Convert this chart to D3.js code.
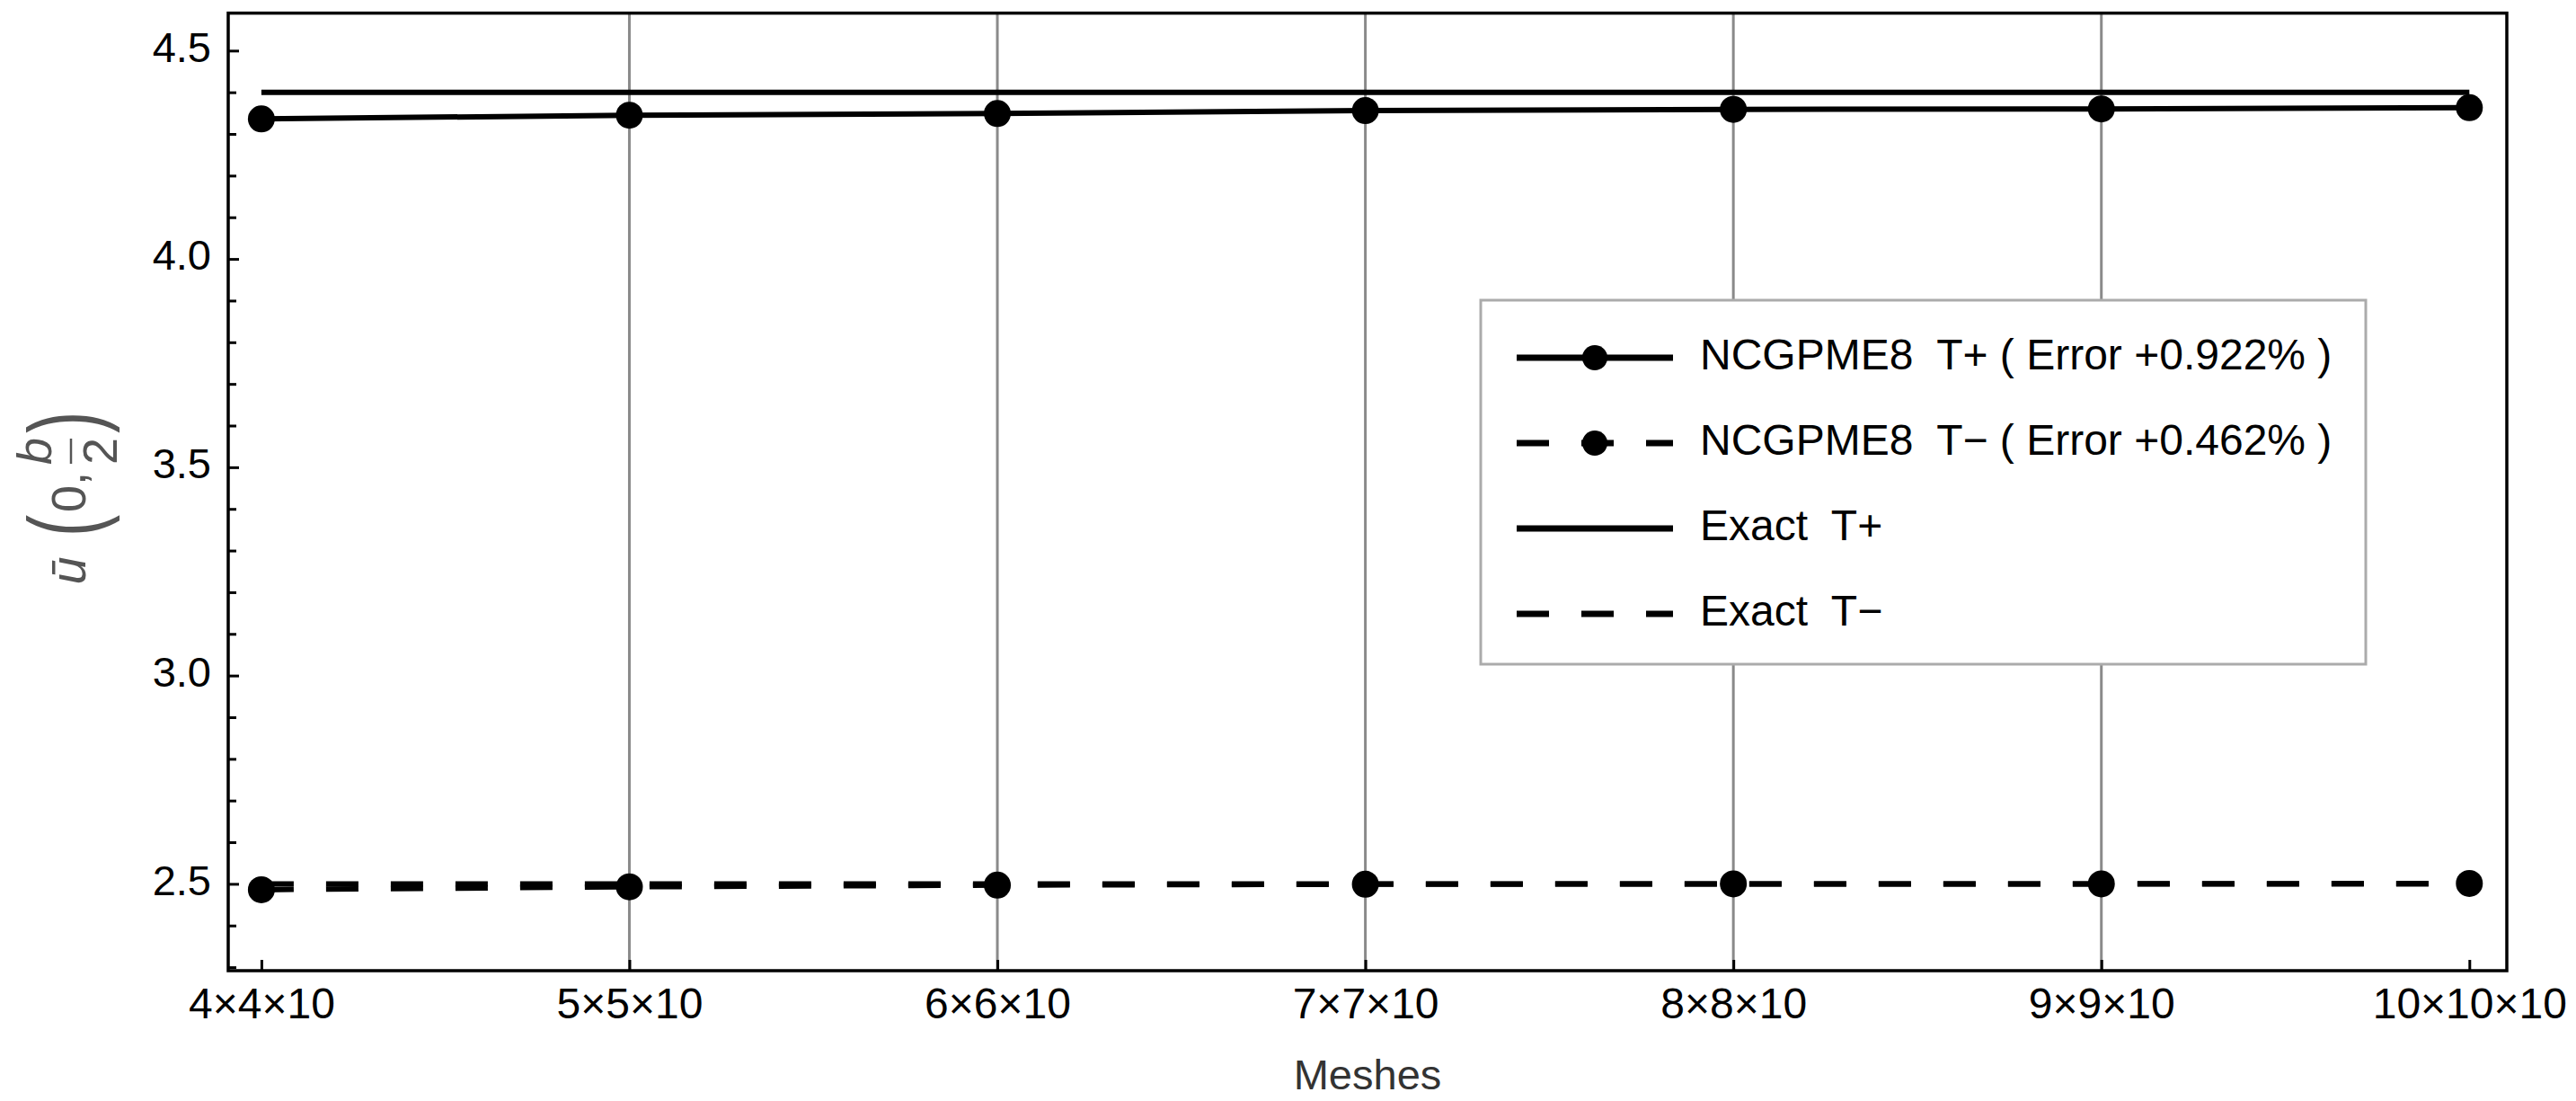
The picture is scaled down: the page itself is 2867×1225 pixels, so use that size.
<!DOCTYPE html>
<html>
<head>
<meta charset="utf-8">
<script src="https://cdn.jsdelivr.net/npm/d3@7"></script>
<style>
  html, body { margin: 0; padding: 0; background: #fff; }
  svg { display: block; }
  text { font-family: "Liberation Sans", Arial, sans-serif; }
</style>
</head>
<body>
<svg id="chart" width="2867" height="1225"></svg>
<script>
// ---------------- data ----------------
const categories = ["4×4×10", "5×5×10", "6×6×10", "7×7×10", "8×8×10", "9×9×10", "10×10×10"];
const ncgTPlus  = [4.336, 4.345, 4.349, 4.356, 4.359, 4.360, 4.363];
const ncgTMinus = [2.486, 2.493, 2.497, 2.499, 2.500, 2.500, 2.501];
const exactTPlus  = [4.4, 4.4, 4.4, 4.4, 4.4, 4.4, 4.4];
const exactTMinus = [2.5, 2.5, 2.5, 2.5, 2.5, 2.5, 2.5];
const yMajorTicks = [2.5, 3.0, 3.5, 4.0, 4.5];
const yTickLabels = ["2.5", "3.0", "3.5", "4.0", "4.5"];
const legendLabels = [
  "NCGPME8  T+ ( Error +0.922% )",
  "NCGPME8  T− ( Error +0.462% )",
  "Exact  T+",
  "Exact  T−"
];
const xTitle = "Meshes";

// ---------------- layout ----------------
const frame = { left: 254, right: 2790, top: 14.6, bottom: 1080 };
const svg = d3.select("#chart");

const x = d3.scalePoint().domain(categories).range([290.9, 2748.3]);
const y = d3.scaleLinear().domain([2.2916, 4.590]).range([frame.bottom, frame.top]);

const rows = categories.map((c, i) => ({
  c, tp: ncgTPlus[i], tm: ncgTMinus[i], ep: exactTPlus[i], em: exactTMinus[i]
}));

// gridlines (interior categories)
svg.append("g").selectAll("line")
  .data(categories.slice(1, -1))
  .join("line")
  .attr("x1", d => x(d)).attr("x2", d => x(d))
  .attr("y1", frame.top).attr("y2", frame.bottom)
  .attr("stroke", "#8a8a8a").attr("stroke-width", 3);

const lineGen = key => d3.line().x(d => x(d.c)).y(d => y(d[key]));

const plot = svg.append("g");
plot.append("path").datum(rows).attr("d", lineGen("ep"))
  .attr("fill", "none").attr("stroke", "#000").attr("stroke-width", 6);
plot.append("path").datum(rows).attr("d", lineGen("em"))
  .attr("fill", "none").attr("stroke", "#000").attr("stroke-width", 6)
  .attr("stroke-dasharray", "36,36");
plot.append("path").datum(rows).attr("d", lineGen("tp"))
  .attr("fill", "none").attr("stroke", "#000").attr("stroke-width", 6);
plot.append("path").datum(rows).attr("d", lineGen("tm"))
  .attr("fill", "none").attr("stroke", "#000").attr("stroke-width", 6)
  .attr("stroke-dasharray", "36,36");

plot.append("g").selectAll("circle").data(rows).join("circle")
  .attr("cx", d => x(d.c)).attr("cy", d => y(d.tp)).attr("r", 15).attr("fill", "#000");
plot.append("g").selectAll("circle").data(rows).join("circle")
  .attr("cx", d => x(d.c)).attr("cy", d => y(d.tm)).attr("r", 15).attr("fill", "#000");

// frame
svg.append("rect")
  .attr("x", frame.left).attr("y", frame.top)
  .attr("width", frame.right - frame.left).attr("height", frame.bottom - frame.top)
  .attr("fill", "none").attr("stroke", "#000").attr("stroke-width", 3.5);

// y axis: minor ticks
const yMinor = d3.range(2.3, 4.55, 0.1).filter(v => !yMajorTicks.some(m => Math.abs(m - v) < 1e-6));
svg.append("g").attr("transform", `translate(${frame.left},0)`)
  .call(d3.axisLeft(y).tickValues(yMinor).tickSizeInner(-9).tickSizeOuter(0).tickFormat(""))
  .call(g => g.select(".domain").remove())
  .call(g => g.selectAll(".tick line").attr("stroke", "#000").attr("stroke-width", 3));

// y axis: major ticks + labels
svg.append("g").attr("transform", `translate(${frame.left},0)`)
  .call(d3.axisLeft(y).tickValues(yMajorTicks).tickSizeInner(-12).tickSizeOuter(0).tickPadding(19)
    .tickFormat((d, i) => yTickLabels[i]))
  .call(g => g.select(".domain").remove())
  .call(g => g.selectAll(".tick line").attr("stroke", "#000").attr("stroke-width", 3))
  .call(g => g.selectAll(".tick text")
    .attr("font-size", 47).attr("font-family", "Liberation Sans, Arial, sans-serif")
    .attr("fill", "#000").attr("dy", "0.25em"));

// x axis
svg.append("g").attr("transform", `translate(0,${frame.bottom})`)
  .call(d3.axisBottom(x).tickSizeInner(-12).tickSizeOuter(0).tickPadding(19))
  .call(g => g.select(".domain").remove())
  .call(g => g.selectAll(".tick line").attr("stroke", "#000").attr("stroke-width", 3))
  .call(g => g.selectAll(".tick text")
    .attr("font-size", 48).attr("font-family", "Liberation Sans, Arial, sans-serif")
    .attr("fill", "#000"));

// x title
svg.append("text")
  .attr("x", (frame.left + frame.right) / 2).attr("y", 1212)
  .attr("text-anchor", "middle").attr("font-size", 47).attr("fill", "#333")
  .text(xTitle);

// y title: ū(0, b/2) rotated
const mathColor = "#555";
const ml = svg.append("g").attr("transform", "translate(80,552) rotate(-90)")
  .attr("font-family", "Liberation Serif, Times New Roman, serif").attr("fill", mathColor);
ml.append("text").attr("x", -83).attr("y", 15).attr("text-anchor", "middle")
  .attr("font-size", 56).attr("font-style", "italic").text("ū");
ml.append("text").attr("transform", "translate(-33,30) scale(0.65,1)")
  .attr("text-anchor", "middle").attr("font-size", 112).text("(");
ml.append("text").attr("x", -18).attr("y", 15).attr("text-anchor", "start")
  .attr("font-size", 54).text("0,");
ml.append("text").attr("x", 50).attr("y", -23).attr("text-anchor", "middle")
  .attr("font-size", 54).attr("font-style", "italic").text("b");
ml.append("line").attr("x1", 36).attr("x2", 64).attr("y1", -1).attr("y2", -1)
  .attr("stroke", mathColor).attr("stroke-width", 2.5);
ml.append("text").attr("x", 50).attr("y", 50).attr("text-anchor", "middle")
  .attr("font-size", 54).text("2");
ml.append("text").attr("transform", "translate(82,30) scale(0.65,1)")
  .attr("text-anchor", "middle").attr("font-size", 112).text(")");

// legend
const lg = svg.append("g");
lg.append("rect").attr("x", 1648).attr("y", 334).attr("width", 985).attr("height", 405)
  .attr("fill", "#fff").attr("stroke", "#ababab").attr("stroke-width", 3);
const legendStyles = [
  { dash: null, marker: true },
  { dash: "36,36", marker: true },
  { dash: null, marker: false },
  { dash: "36,36", marker: false }
];
const rowY = i => 398 + i * 95;
legendLabels.forEach((lab, i) => {
  const s = legendStyles[i];
  const yy = rowY(i);
  const ln = lg.append("line").attr("x1", 1688).attr("x2", 1862).attr("y1", yy).attr("y2", yy)
    .attr("stroke", "#000").attr("stroke-width", 7);
  if (s.dash) ln.attr("stroke-dasharray", s.dash);
  if (s.marker) lg.append("circle").attr("cx", 1775).attr("cy", yy).attr("r", 14).attr("fill", "#000");
  lg.append("text").attr("x", 1892).attr("y", yy + 13)
    .attr("font-size", 48).attr("fill", "#000").style("white-space", "pre").text(lab);
});
</script>
</body>
</html>
